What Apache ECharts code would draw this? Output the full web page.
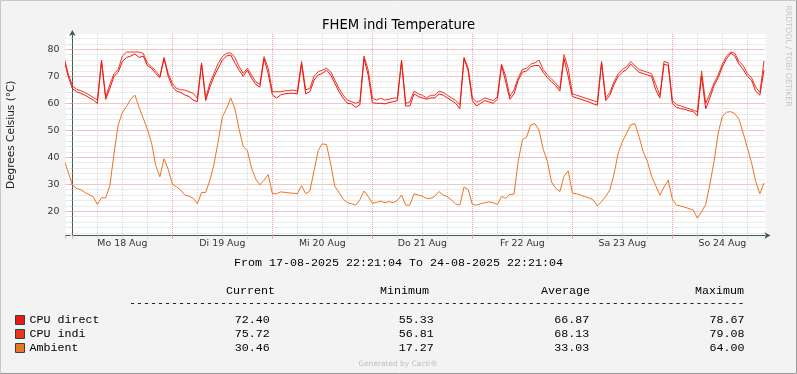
<!DOCTYPE html>
<html><head><meta charset="utf-8">
<script src="https://cdn.jsdelivr.net/npm/echarts@6/dist/echarts.min.js"></script>
<style>html,body{margin:0;padding:0;background:#f3f3f3}#c{width:797px;height:374px}</style>
</head><body><div id="c"></div>
<script>
// ---------------- data ----------------
const chartTitle = 'FHEM indi Temperature';
const yAxisName = 'Degrees Celsius (\u00B0C)';
const periodText = 'From 17-08-2025 22:21:04 To 24-08-2025 22:21:04';
const seriesNames = ['CPU direct', 'CPU indi', 'Ambient'];
const seriesColors = ['#F01515', '#E8381C', '#EA7424'];
const dayLabels = ['Mo 18 Aug', 'Di 19 Aug', 'Mi 20 Aug', 'Do 21 Aug', 'Fr 22 Aug', 'Sa 23 Aug', 'So 24 Aug'];
const statHeaders = ['Current', 'Minimum', 'Average', 'Maximum'];
const statCurrent = ['72.40', '75.72', '30.46'];
const statMinimum = ['55.33', '56.81', '17.27'];
const statAverage = ['66.87', '68.13', '33.03'];
const statMaximum = ['78.67', '79.08', '64.00'];

// hourly samples, first sample = 17 Aug 22:00, hours counted from 18 Aug 00:00
const firstSampleHour = -2;
const cpuDirect = [
  76, 70,
  65.5, 64.3, 63.7, 63, 62.1, 61.2, 60, 75.5, 61.5, 65.5, 70, 71.5, 75.5, 77, 77.5, 78.3, 77, 77.5, 74, 73, 71, 69.5, 76.5, 70,
  66.2, 64.5, 64, 63.1, 62.5, 61.2, 60.6, 74.5, 61, 66, 70, 73, 76, 77.5, 77.9, 75, 72.3, 70, 72.3, 69.3, 67, 66, 76.5, 71,
  63.1, 62, 63.1, 63.5, 63.7, 63.7, 63.5, 74.5, 63.5, 64.3, 68.6, 70.5, 71.1, 72.3, 70.5, 67.4, 64.3, 61.9, 60, 59.8, 58.5, 59.4, 76.5, 70.5,
  60.2, 60, 60, 59.8, 60.3, 60.6, 61, 75.5, 59, 59, 63.5, 62.5, 62, 61.5, 62, 62, 63.5, 63, 62, 61, 60, 58, 76.5, 72,
  61, 59, 60, 61, 60.5, 60, 61.5, 74, 68, 61.5, 63.5, 68.5, 71.5, 72, 73.5, 74, 74, 71.5, 69.5, 68, 66.5, 64.5, 76.5, 70,
  62.5, 62, 61.5, 61, 60.5, 59.8, 59.3, 75, 61, 63, 67, 70, 71.5, 72.5, 74.5, 73, 71.5, 71, 70.5, 70, 65, 62, 74.5, 74,
  60, 58.5, 58, 57.8, 57.2, 57, 55.4, 70, 58, 62, 66.5, 69.5, 73.5, 76.5, 78.6, 77.5, 74.5, 72.5, 70, 68.5, 64.5, 63, 72.4
];
const cpuIndi = [
  77, 71,
  66.5, 65.2, 64.7, 64, 63.1, 62.2, 61.2, 76, 62.2, 67, 71, 72.5, 77.5, 79, 79, 79, 79, 78.5, 75, 73.5, 72, 70, 77, 71,
  67.4, 65.5, 65, 64.9, 64.3, 63.7, 61.9, 75, 62, 67.4, 71.1, 74.8, 77.3, 78.5, 78.7, 77, 73.6, 71.1, 73, 70.5, 68, 67, 77.3, 73,
  64.3, 64.3, 64.3, 64.6, 64.7, 64.9, 64.5, 75.5, 65, 65.5, 70, 71.7, 72.3, 73, 71.7, 68.6, 65.5, 63, 61.2, 60.6, 60, 60.6, 77.5, 72.3,
  61.9, 61.2, 61.9, 61.2, 61.5, 61.9, 62, 76, 60, 60.5, 64.5, 63.5, 63, 62, 63, 63, 64.5, 64, 63, 62, 61, 59.5, 77, 73,
  62, 60.5, 61, 62, 61.5, 61, 62.5, 74.5, 70, 62.5, 65, 69.5, 72.5, 73, 74.5, 75, 76, 72.5, 70.5, 69, 67.5, 65.5, 78, 73,
  63.5, 63, 62.5, 62, 61.5, 61, 60.5, 75.5, 62, 64, 68, 71, 72.5, 73.5, 75.5, 74, 72.5, 72, 71.5, 71, 67, 63, 75.5, 75,
  61, 59.5, 59, 58.5, 58, 57.5, 56.8, 72, 60, 63.5, 67.5, 70.5, 74.5, 77.5, 79, 78.5, 75.5, 74, 71, 69.5, 66, 64, 75.7
];
const ambient = [
  39, 34.5,
  29.8, 28.5, 28, 27, 26.2, 25.4, 22.5, 25, 25, 29.5, 41.5, 52, 56.6, 58.8, 61.5, 63.1, 58.5, 54.5, 50.4, 45.4, 37, 32.8, 39.5, 35.5,
  30, 29.1, 27.8, 26, 25.6, 24.8, 22.8, 27, 27, 31.5, 37.5, 46, 55, 58, 62, 58, 50.5, 44, 42.5, 36, 32, 29.8, 31.5, 33.6,
  26.5, 26.5, 27.2, 27, 26.8, 26.7, 26.5, 29.5, 26.5, 27.5, 35, 42.5, 45, 44.7, 37.5, 29.2, 27, 24.5, 23.2, 22.8, 22.3, 24.3, 27.5, 25.5,
  23, 23.3, 23.8, 23.2, 23.6, 23.2, 24, 26, 22.3, 22.3, 26.5, 26, 25.6, 24.8, 24.8, 25.6, 27.3, 26, 25.4, 24.2, 22.7, 22.3, 29, 28,
  22.5, 22.3, 22.8, 23.2, 23.5, 23.2, 22.5, 25.5, 24.8, 26.2, 26.4, 38.5, 46.5, 47.5, 52, 52.5, 50, 43, 38.5, 30.8, 28.5, 27.3, 33, 35,
  26.7, 26.5, 26, 25.4, 25, 24.2, 22, 23.6, 25.5, 27.9, 33.8, 41.5, 45.8, 48.9, 52, 52.5, 47.7, 42, 38.5, 33, 29.5, 26, 29, 31.5,
  24.5, 22.3, 22, 21.5, 21, 20.5, 17.5, 19.8, 22.5, 30, 38.5, 49, 55.2, 56.7, 56.9, 56.2, 54, 49, 43.5, 38, 31, 26.5, 30.5
];
const seriesValues = [cpuDirect, cpuIndi, ambient];

// time window: 17-08 22:21:04 .. 24-08 22:21:04, in hours from 18 Aug 00:00
const startH = -(1 + 38 / 60 + 56 / 3600);
const endH = startH + 168;
const yMin = 11.04, yMax = 85.67;

// ---------------- styles ----------------
const axisColor = '#3d5c53';
const majorGrid = '#EFA3A3';
const minorGrid = '#D6D6D6';
const sans = 'DejaVu Sans';
const mono = 'Liberation Mono';
const monoSize = 11.67;

const chart = echarts.init(document.getElementById('c'), null, { renderer: 'canvas' });

const toPairs = arr => arr.map((v, i) => [firstSampleHour + i, v]);

const richBase = { fontFamily: mono, fontSize: monoSize, color: '#000', lineHeight: 14 };

chart.setOption({
  backgroundColor: '#f3f3f3',
  animation: false,
  title: {
    text: chartTitle, left: 'center', top: 14,
    textStyle: { fontFamily: sans, fontSize: 13.2, fontWeight: 'normal', color: '#000' }
  },
  grid: { left: 65.5, right: 31.5, top: 34, bottom: 138.5, show: true, backgroundColor: '#ffffff', borderWidth: 0, containLabel: false, outerBoundsMode: 'none' },
  legend: {
    orient: 'vertical', left: 15, top: 313, padding: 0, itemGap: 0,
    itemWidth: 9, itemHeight: 9, icon: 'rect', selectedMode: false,
    itemStyle: { borderColor: '#2f4640', borderWidth: 1 },
    data: seriesNames,
    textStyle: Object.assign({}, richBase, {
      rich: {
        n: Object.assign({}, richBase, { width: 171, align: 'left' }),
        c: Object.assign({}, richBase, { width: 69.3, align: 'right' }),
        m: Object.assign({}, richBase, { width: 164, align: 'right' }),
        a: Object.assign({}, richBase, { width: 155.4, align: 'right' }),
        x: Object.assign({}, richBase, { width: 155.3, align: 'right' })
      }
    }),
    formatter: name => {
      const i = seriesNames.indexOf(name);
      return '{n|' + name + '}{c|' + statCurrent[i] + '}{m|' + statMinimum[i] + '}{a|' + statAverage[i] + '}{x|' + statMaximum[i] + '}';
    }
  },
  xAxis: [
    { // data axis (hours)
      type: 'value', min: startH, max: endH, show: false
    },
    { // 6-hour minor grid (units of 6 h)
      type: 'value', position: 'bottom', min: startH / 6, max: endH / 6, splitNumber: 28,
      axisLine: { show: false }, axisLabel: { show: false },
      axisTick: { show: true, length: 3, lineStyle: { color: minorGrid } },
      splitLine: { show: true, showMinLine: false, showMaxLine: false, lineStyle: { color: minorGrid, width: 1, type: [1, 1] } }
    },
    { // midnight major grid (units of days)
      type: 'value', position: 'bottom', min: startH / 24, max: endH / 24, splitNumber: 7,
      axisLine: { show: true, lineStyle: { color: axisColor, width: 1 }, symbol: ['none', 'arrow'], symbolSize: [5, 6], symbolOffset: [0, 5] },
      axisLabel: { show: false },
      axisTick: { show: true, length: 3, lineStyle: { color: majorGrid } },
      splitLine: { show: true, showMinLine: false, showMaxLine: false, lineStyle: { color: majorGrid, width: 1, type: [1, 1] } }
    },
    { // day labels at noon (units of days from 18 Aug 12:00)
      type: 'value', position: 'bottom', min: (startH - 12) / 24, max: (endH - 12) / 24, splitNumber: 7,
      axisLine: { show: false }, axisTick: { show: false }, splitLine: { show: false },
      axisLabel: {
        show: true, showMinLabel: false, showMaxLabel: false, margin: 4,
        color: '#333', fontFamily: sans, fontSize: 9.4,
        formatter: v => { const i = Math.round(v); return (Math.abs(v - i) < 1e-6 && dayLabels[i]) ? dayLabels[i] : ''; }
      }
    }
  ],
  yAxis: [
    { // minor grid every 2 degrees
      type: 'value', position: 'left', min: yMin, max: yMax, splitNumber: 37,
      axisLine: { show: false }, axisLabel: { show: false },
      axisTick: { show: true, length: 2, lineStyle: { color: minorGrid } },
      splitLine: { show: true, showMinLine: false, showMaxLine: false, lineStyle: { color: minorGrid, width: 1, type: [1, 1] } }
    },
    { // main axis, labels every 10 degrees
      type: 'value', position: 'left', min: yMin, max: yMax, splitNumber: 7,
      name: yAxisName, nameLocation: 'middle', nameGap: 48.5,
      nameTextStyle: { fontFamily: sans, fontSize: 10.5, color: '#222' },
      axisLine: { show: true, lineStyle: { color: axisColor, width: 1 }, symbol: ['none', 'arrow'], symbolSize: [5, 6], symbolOffset: [0, 4] },
      axisTick: { show: true, length: 3, lineStyle: { color: majorGrid } },
      axisLabel: { showMinLabel: false, showMaxLabel: false, margin: 6, color: '#333', fontFamily: sans, fontSize: 9.4 },
      splitLine: { show: true, showMinLine: false, showMaxLine: false, lineStyle: { color: majorGrid, width: 1, type: [1, 1] } }
    }
  ],
  series: seriesNames.map((name, k) => ({
    name, type: 'line', xAxisIndex: 0, yAxisIndex: 1,
    data: toPairs(seriesValues[k]),
    showSymbol: false, symbol: 'none', clip: true,
    lineStyle: { width: 1, color: seriesColors[k] },
    itemStyle: { color: seriesColors[k] },
    emphasis: { disabled: true },
    z: 3 + (2 - k)
  })),
  graphic: [
    { type: 'polyline', silent: true, shape: { points: [[0.5, 373.5], [0.5, 0.5], [796.5, 0.5]] }, style: { stroke: '#C8C8C8', fill: null, lineWidth: 1 } },
    { type: 'polyline', silent: true, shape: { points: [[796.5, 0.5], [796.5, 373.5], [0.5, 373.5]] }, style: { stroke: '#9A9A9A', fill: null, lineWidth: 1 } },
    { type: 'text', silent: true, x: 398.5, y: 262.5, style: { text: periodText, font: monoSize + 'px "' + mono + '"', fill: '#000', textAlign: 'center', textVerticalAlign: 'middle', align: 'center', verticalAlign: 'middle' } },
    ...statHeaders.map((h, i) => ({ type: 'text', silent: true, x: [226, 380, 541, 695][i], y: 291, style: { text: h, font: monoSize + 'px "' + mono + '"', fill: '#000', textAlign: 'left', textVerticalAlign: 'middle', align: 'left', verticalAlign: 'middle' } })),
    { type: 'text', silent: true, x: 129, y: 303, style: { text: '-'.repeat(88), font: monoSize + 'px "' + mono + '"', fill: '#000', textAlign: 'left', textVerticalAlign: 'middle', align: 'left', verticalAlign: 'middle' } },
    { type: 'text', silent: true, x: 398, y: 364, style: { text: 'Generated by Cacti\u00AE', font: '7.4px "' + sans + '"', fill: '#BDBDBD', textAlign: 'center', textVerticalAlign: 'middle', align: 'center', verticalAlign: 'middle' } },
    { type: 'text', silent: true, x: 788, y: 56, rotation: -Math.PI / 2, style: { text: 'RRDTOOL / TOBI OETIKER', font: '7.9px "' + sans + '"', fill: '#C4C4C4', textAlign: 'center', textVerticalAlign: 'middle', align: 'center', verticalAlign: 'middle' } }
  ]
});
</script>
</body></html>
